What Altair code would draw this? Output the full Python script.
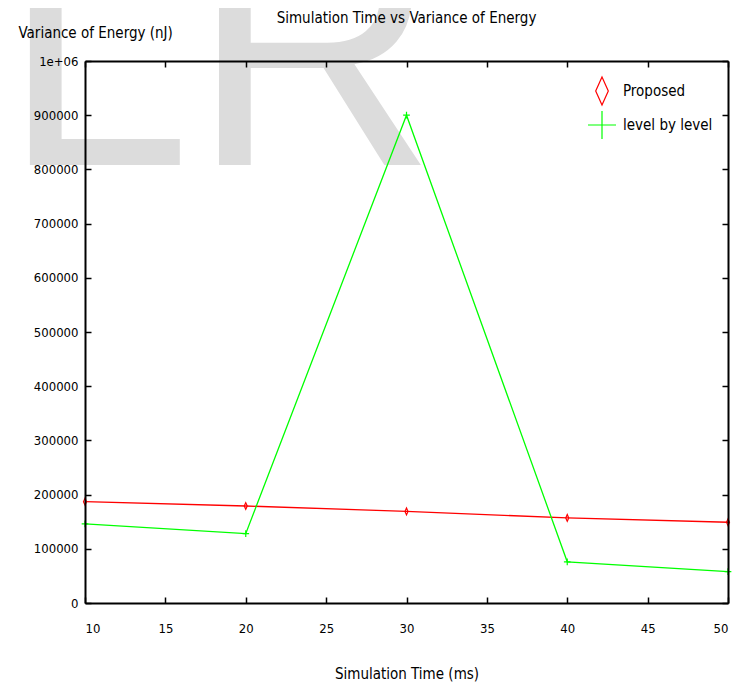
import altair as alt
import pandas as pd

# ---- data ----
sim_time = [10, 20, 30, 40, 50]
proposed = [187000, 179000, 169000, 157000, 149000]
level_by_level = [146000, 128000, 900000, 76000, 58000]
series_names = ["Proposed", "level by level"]
series_colors = ["#ff0000", "#00ff00"]
x_ticks = [10, 15, 20, 25, 30, 35, 40, 45, 50]
y_ticks = [0, 100000, 200000, 300000, 400000, 500000, 600000, 700000, 800000, 900000, 1000000]
chart_title = "Simulation Time vs Variance of Energy"
x_title = "Simulation Time (ms)"
y_title = "Variance of Energy (nJ)"
watermark = "LR"

rows = []
for name, vals in zip(series_names, [proposed, level_by_level]):
    for t, v in zip(sim_time, vals):
        rows.append({"time": t, "variance": v, "series": name, "marker": name})
df = pd.DataFrame(rows)

FONT = "DejaVu Sans Condensed, DejaVu Sans, sans-serif"
FS = 15      # text size
NFS = 13     # number size
W, H = 643, 542

xscale = alt.Scale(domain=[10, 50], nice=False, zero=False)
yscale = alt.Scale(domain=[0, 1000000], nice=False)
cscale = alt.Scale(domain=series_names, range=series_colors)

tick_grid = dict(grid=True, gridColor="black", gridWidth=1.5, gridDash=[6, 2000], gridOpacity=1,
                 ticks=False, domain=True, domainColor="black", domainWidth=2, zindex=1)

wm = alt.Chart(pd.DataFrame({"t": [watermark]})).mark_text(
    font="Liberation Sans, Arial, sans-serif", fontSize=340, color="#dcdcdc",
    align="left", baseline="alphabetic"
).encode(text="t:N", x=alt.value(-83), y=alt.value(104))

title_mark = alt.Chart(pd.DataFrame({"t": [chart_title]})).mark_text(
    font=FONT, fontSize=FS, color="black", align="center", baseline="middle"
).encode(text="t:N", x=alt.value(W / 2), y=alt.value(-43))

# legend glyph: a short line with a cross marker
leg = alt.Legend(title=None, orient="top-right", offset=15, symbolSize=784,
                 symbolType="M-1.2,0H1.2M0,-0.3V0.3",
                 symbolStrokeWidth=1.2, labelOffset=6,
                 labelFont=FONT, labelFontSize=FS,
                 labelColor="black", rowPadding=0)

lines = alt.Chart(df).mark_line(strokeWidth=1.3, clip=False).encode(
    x=alt.X("time:Q", scale=xscale,
            axis=alt.Axis(values=x_ticks, title=x_title, labelPadding=19,
                          labelFont=FONT, labelFontSize=NFS, labelColor="black",
                          titleFont=FONT, titleFontSize=FS, titleFontWeight="normal",
                          titleColor="black", titleY=70, titleBaseline="middle",
                          orient="bottom", **tick_grid)),
    y=alt.Y("variance:Q", scale=yscale,
            axis=alt.Axis(values=y_ticks, title=y_title,
                          labelExpr="datum.value == 1000000 ? '1e+06' : format(datum.value, 'd')",
                          labelPadding=7, labelFont=FONT, labelFontSize=NFS, labelColor="black",
                          titleFont=FONT, titleFontSize=FS, titleFontWeight="normal", titleColor="black",
                          titleAngle=0, titleX=-67, titleY=-29, titleAlign="left",
                          titleBaseline="middle", orient="left", **tick_grid)),
    color=alt.Color("series:N", scale=cscale, legend=leg),
    detail="series:N",
)

points = alt.Chart(df).mark_point(filled=False, strokeWidth=1.2, opacity=1, size=45, clip=False).encode(
    x=alt.X("time:Q", scale=xscale,
            axis=alt.Axis(values=x_ticks, orient="top", labels=False, title=None, **tick_grid)),
    y=alt.Y("variance:Q", scale=yscale,
            axis=alt.Axis(values=y_ticks, orient="right", labels=False, title=None, **tick_grid)),
    color=alt.Color("series:N", scale=cscale, legend=None),
    shape=alt.Shape("marker:N", scale=alt.Scale(domain=series_names,
                    range=["M0,-1L0.45,0L0,1L-0.45,0Z", "M-1,0H1M0,-1V1"]), legend=None),
)

chart = alt.layer(wm, title_mark, lines, points).resolve_axis(
    x="independent", y="independent").properties(
    width=W, height=H,
    autosize=alt.AutoSizeParams(type="none"),
    padding={"left": 77, "top": 53, "right": 15, "bottom": 81},
).configure_view(stroke=None).configure(background="white")

chart.save("out.html", embed_options={"renderer": "svg", "actions": False})
